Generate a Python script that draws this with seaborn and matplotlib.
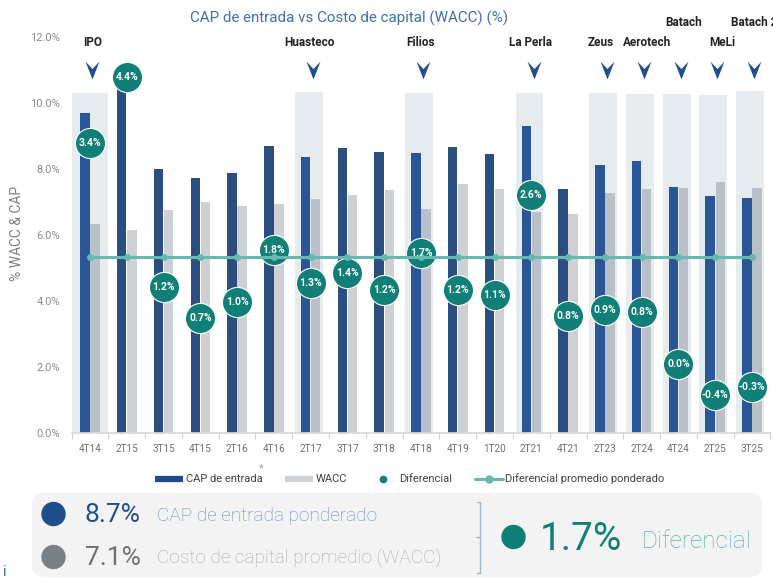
import numpy as np
import pandas as pd
import matplotlib
matplotlib.use("Agg")
import matplotlib.pyplot as plt
import seaborn as sns
from matplotlib.path import Path
from matplotlib.lines import Line2D
from matplotlib.patches import FancyBboxPatch, Circle

# ---------------- data ----------------
categories = ['4T14', '2T15', '3T15', '4T15', '2T16', '4T16', '2T17', '3T17', '3T18', '4T18',
              '4T19', '1T20', '2T21', '4T21', '2T23', '2T24', '4T24', '2T25', '3T25']
cap_entrada = [9.71, 10.55, 7.99, 7.72, 7.87, 8.71, 8.35, 8.65, 8.52, 8.49,
               8.68, 8.46, 9.29, 7.39, 8.11, 8.24, 7.46, 7.17, 7.11]
wacc = [6.32, 6.15, 6.76, 7.00, 6.88, 6.93, 7.09, 7.21, 7.36, 6.78,
        7.54, 7.38, 6.70, 6.63, 7.26, 7.39, 7.42, 7.60, 7.42]
diferencial = [3.4, 4.4, 1.21, 0.74, 0.98, 1.77, 1.27, 1.42, 1.17, 1.73,
               1.16, 1.09, 2.6, 0.77, 0.86, 0.84, 0.04, -0.42, -0.3]
diferencial_promedio = 1.66

event_labels = ['IPO', 'Huasteco', 'Filios', 'La Perla', 'Zeus', 'Aerotech', 'Batach', 'MeLi', 'Batach 2']
event_cats = ['4T14', '2T17', '4T18', '2T21', '2T23', '2T24', '4T24', '2T25', '3T25']
band_tops = [10.30, 10.33, 10.31, 10.31, 10.31, 10.27, 10.27, 10.24, 10.37]

cap_ponderado = 8.7
wacc_promedio = 7.1
diferencial_ponderado = 1.7

y_ticks = [0, 2, 4, 6, 8, 10, 12]

# ---------------- style ----------------
sns.set_theme(style="white")
plt.rcParams['font.family'] = ['Roboto', 'DejaVu Sans']

CAP_C = '#1D4B8F'
CAP_C_HL = '#2A5698'
WACC_C = '#CDD1D4'
WACC_C_HL = '#B9C0C8'
BAND_C = '#E6EBF0'
TEAL = '#0F7F77'
LINE_C = '#66B8B0'
ARROW_C = '#1F4E8C'

W, H = 773, 580
fig = plt.figure(figsize=(W / 100, H / 100), dpi=100)
ax = fig.add_axes([71.6 / W, 1 - 433 / H, (770.4 - 71.6) / W, (433 - 37) / H])

n = len(categories)
idx = np.arange(n)
df = pd.DataFrame({
    'cat': categories * 2,
    'value': cap_entrada + wacc,
    'serie': ['CAP de entrada'] * n + ['WACC'] * n,
})

sns.barplot(data=df, x='cat', y='value', hue='serie', order=categories,
            hue_order=['CAP de entrada', 'WACC'], palette=[CAP_C, WACC_C],
            width=0.55, gap=0.06, ax=ax, legend=False, zorder=1, linewidth=0)
cap_bars, wacc_bars = ax.containers[0], ax.containers[1]

# highlight bands
ev_idx = [categories.index(c) for c in event_cats]
band_w = [0.98 if c == categories[0] else 0.76 for c in event_cats]
band_x = [i + (0.0 if c == categories[0] else -0.05) for i, c in zip(ev_idx, event_cats)]
ax.bar(band_x, band_tops, width=band_w, color=BAND_C, zorder=0.5, linewidth=0)

for i in ev_idx:
    cap_bars[i].set_facecolor(CAP_C_HL)
    wacc_bars[i].set_facecolor(WACC_C_HL)

ax.set_xlim(-0.5, n - 0.5)
ax.set_ylim(0, 12)
ax.set_yticks(y_ticks)
ax.set_yticklabels([f'{v:.1f}%' for v in y_ticks])
ax.tick_params(axis='y', length=0, pad=8.4, labelsize=8, labelcolor='#8C8C8C')
ax.tick_params(axis='x', which='major', length=0, pad=8, labelsize=7.2, labelcolor='#6F6F6F')
ax.set_xticks(np.arange(-0.5, n, 1), minor=True)
ax.tick_params(axis='x', which='minor', length=4, width=0.8, color='#D0D0D0', bottom=True)
ax.set_xlabel('')
ax.set_ylabel('% WACC & CAP', fontsize=10, color='#7F7F7F')
ax.yaxis.set_label_coords(-0.068, 0.505)
for s in ['top', 'right', 'left']:
    ax.spines[s].set_visible(False)
ax.spines['bottom'].set_color('#D9D9D9')
ax.grid(False)

# event arrows
arrow = Path([(-0.39, 0.5), (0.0, 0.08), (0.39, 0.5), (0.0, -0.5), (-0.39, 0.5)],
             [Path.MOVETO, Path.LINETO, Path.LINETO, Path.LINETO, Path.CLOSEPOLY])
ax.scatter(np.array(ev_idx) + 0.06, np.full(len(ev_idx), 11.0), marker=arrow, s=165,
           color=ARROW_C, linewidths=0, zorder=5, clip_on=False)

label_row = [0, 0, 0, 0, 0, 0, 1, 0, 1]
label_dx = [0.08, -0.03, 0.0, -0.03, -0.12, 0.14, 0.14, 0.19, 0.07]
row_y = {0: 11.83, 1: 12.45}
for lab, i, r, dx in zip(event_labels, ev_idx, label_row, label_dx):
    ax.text(i + dx, row_y[r], lab, ha='center', va='center', fontsize=8.5,
            fontweight='bold', color='#222222', clip_on=False)

# diferencial on secondary axis
ax2 = ax.twinx()
ax2.set_ylim(-1, 5)
sns.lineplot(x=idx, y=[diferencial_promedio] * n, ax=ax2, color=LINE_C, lw=2.2,
             marker='o', markersize=5, markeredgewidth=0, zorder=4)
sns.scatterplot(x=idx, y=diferencial, ax=ax2, s=470, color=TEAL, edgecolor='white',
                linewidth=0.8, zorder=3, legend=False)
for i, d in zip(idx, diferencial):
    ax2.text(i, d, f'{d:.1f}%', ha='center', va='center', fontsize=7.5,
             fontweight='bold', color='white', zorder=6)
ax2.set_ylim(-1, 5)
ax2.axis('off')

# title
fig.text(349 / W, 1 - 18 / H, 'CAP de entrada vs Costo de capital (WACC) (%)',
         ha='center', va='center', fontsize=10.9, color='#3F6FB6')

# legend
handles = [
    Line2D([0], [0], color=CAP_C, lw=4.5, solid_capstyle='butt'),
    Line2D([0], [0], color=WACC_C, lw=4.5, solid_capstyle='butt'),
    Line2D([0], [0], color=TEAL, marker='o', linestyle='none', markersize=4.5),
    Line2D([0], [0], color=LINE_C, lw=2.2, marker='o', markersize=5),
]
leg = fig.legend(handles, ['CAP de entrada', 'WACC', 'Diferencial', 'Diferencial promedio ponderado'],
                 loc='center', bbox_to_anchor=(410 / W, 1 - 479 / H), ncol=4, frameon=False,
                 fontsize=8, handlelength=2.5, handletextpad=0.25, columnspacing=2.0)
for t in leg.get_texts():
    t.set_color('#404040')
fig.text(261 / W, 1 - 468 / H, '*', ha='center', va='center', fontsize=8, color='#A0A0A0')

# summary panel (pixel coordinates overlay)
ov = fig.add_axes([0, 0, 1, 1], facecolor='none')
ov.set_xlim(0, W)
ov.set_ylim(H, 0)
ov.axis('off')
ov.add_patch(FancyBboxPatch((32, 493), 730, 84, boxstyle='round,pad=0,rounding_size=12',
                            facecolor='#F3F3F3', edgecolor='none'))
ov.add_patch(Circle((53.5, 514), 11.5, color='#1F4E8C'))
ov.add_patch(Circle((53.5, 557), 11.5, color='#7B8085'))
ov.add_patch(Circle((513.5, 537), 11.5, color=TEAL))
ov.text(85, 515, f'{cap_ponderado:.1f}%', ha='left', va='center', fontsize=19,
        fontweight='normal', color='#1F4E8C')
ov.text(157, 516, 'CAP de entrada ponderado', ha='left', va='center', fontsize=13.7,
        fontweight='light', color='#6A8BC3')
ov.text(85, 558, f'{wacc_promedio:.1f}%', ha='left', va='center', fontsize=19,
        fontweight='normal', color='#6D7276')
ov.text(157, 559, 'Costo de capital promedio (WACC)', ha='left', va='center', fontsize=13.7,
        fontweight='light', color='#ABABAB')
ov.text(540, 539, f'{diferencial_ponderado:.1f}%', ha='left', va='center', fontsize=28,
        fontweight='normal', color=TEAL)
ov.text(642, 541, 'Diferencial', ha='left', va='center', fontsize=17.5,
        fontweight='light', color='#5DB5AE')
br = '#A8B7C7'
ov.plot([477, 480, 480, 477], [502, 502, 573, 573], color=br, lw=1)
ov.plot([476, 480], [537, 537], color=br, lw=1)
ov.text(3, 572, 'i', ha='left', va='center', fontsize=10, color='#2F5FAF')

fig.savefig('out.png', dpi=100)
